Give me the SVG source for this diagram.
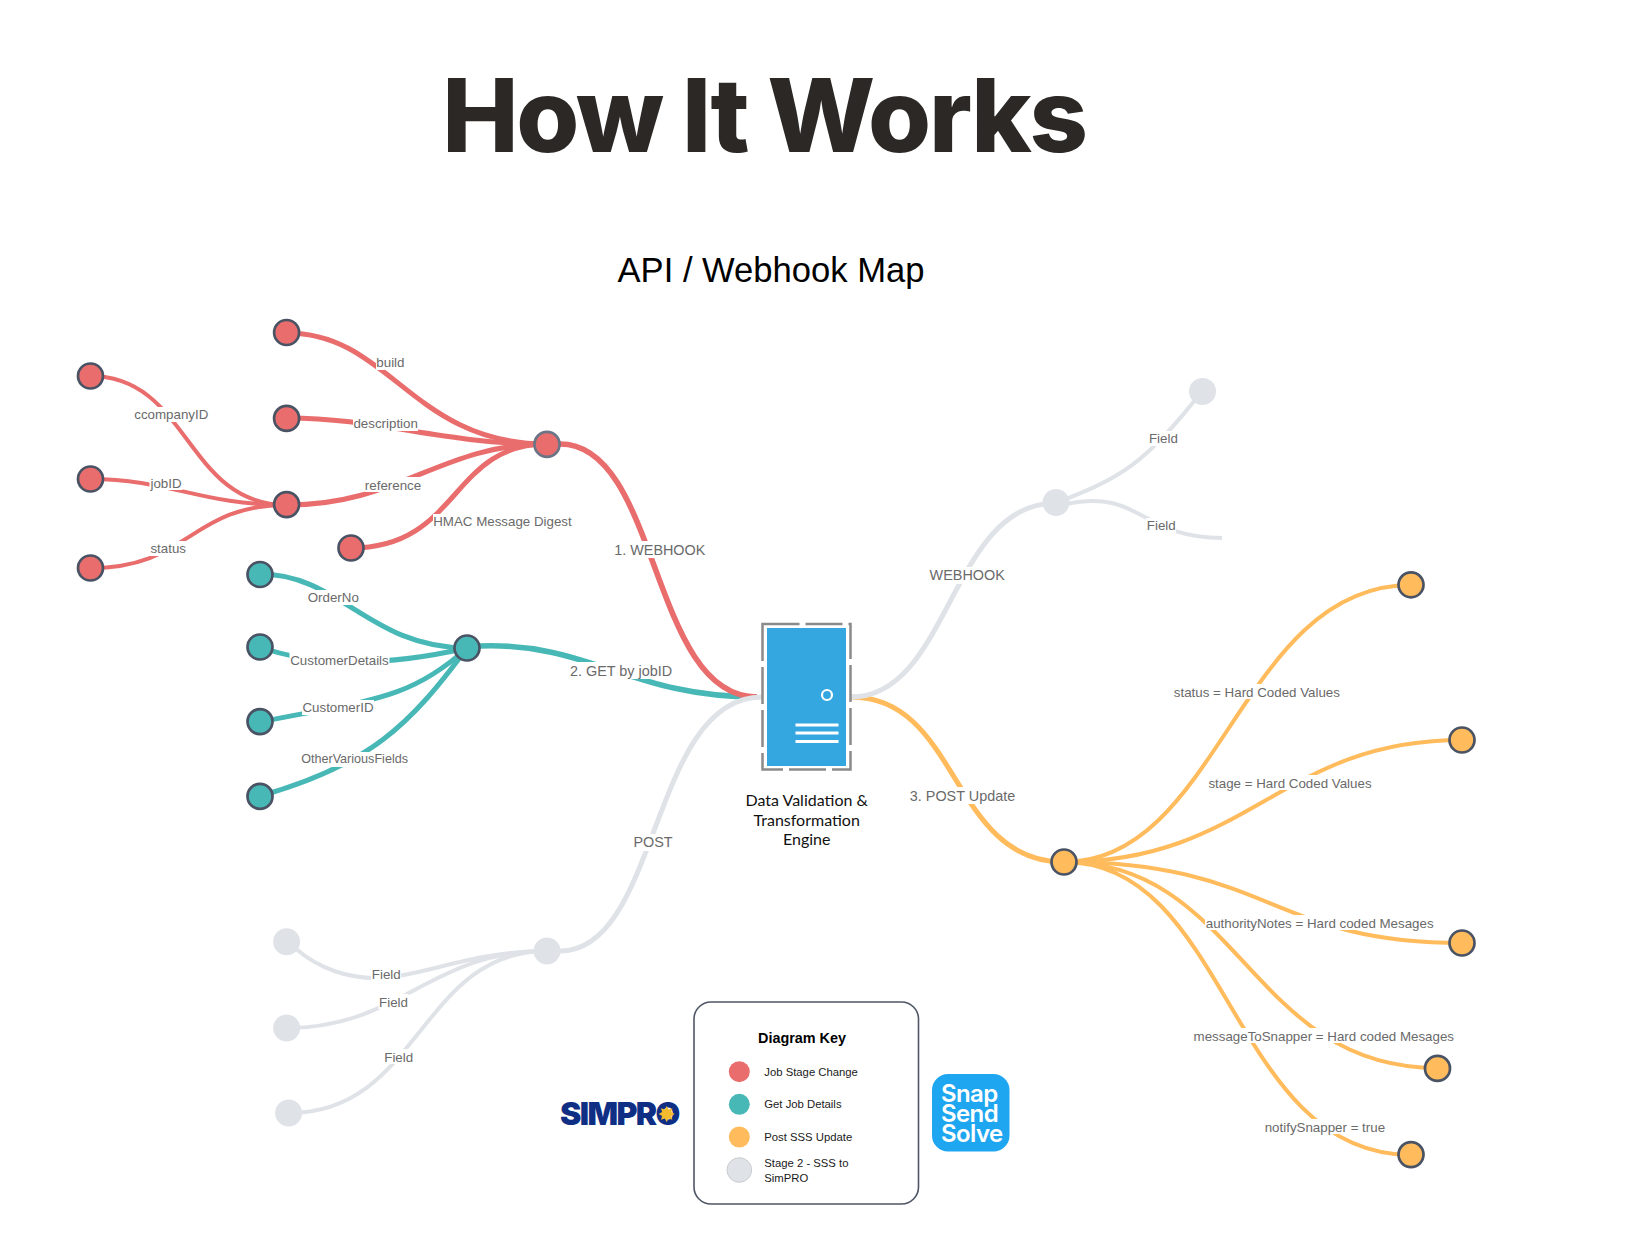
<svg xmlns="http://www.w3.org/2000/svg" width="1628" height="1260" viewBox="0 0 1628 1260">
<style>
text{font-family:"Liberation Sans",Arial,sans-serif}
.c{fill:none;stroke-linecap:butt}
.r{stroke:#e96d6d}.t{stroke:#48b8b7}.o{stroke:#ffbb5c}.g{stroke:#dfe3e8}
.w6{stroke-width:5.6}.w5{stroke-width:5}.w4{stroke-width:4}
.nr,.nt,.no{stroke:#4a5364;stroke-width:2.7}
.nr{fill:#e96d6d}.nt{fill:#48b8b7}.no{fill:#ffbb5c}.ng{fill:#dfe3e8}
.lb{fill:#fff}
.s{font-size:13.33px;fill:#6a6a6a;text-anchor:middle}
.m{font-size:14.4px;fill:#6a6a6a;text-anchor:middle}
.k{font-size:11.3px;fill:#1a1a1a}
.e{font-family:Lato,"Open Sans",sans-serif;font-size:16px;fill:#111;text-anchor:middle}
.sn{font-family:Inter,sans-serif;font-weight:600;font-size:24px;fill:#fff;letter-spacing:-.6px}
</style>
<rect width="1628" height="1260" fill="#fff"/>
<text x="764" y="152" text-anchor="middle" style="font-family:Inter,sans-serif;font-weight:800;font-size:102px;letter-spacing:-2.2px" fill="#2b2826">How It Works</text>
<text x="771" y="282" text-anchor="middle" font-size="34.6" fill="#000">API / Webhook Map</text>
<g id="connectors">
<path class="c o w5" d="M851,697C960,697 950,862 1064,862"/>
<path class="c t w6" d="M480,646C590,642 630,697 757,697"/>
<path class="c r w6" d="M560,444C660,444 650,697 757,697"/>
<path class="c g w5" d="M560,951C660,951 650,697 762,697"/>
<path class="c g w5" d="M851,697C950,697 950,503 1056,503"/>
<path class="c g w4" d="M1056,503C1120,478 1145,465 1202,391"/>
<path class="c g w4" d="M1066,504C1140,488 1140,538 1222,538"/>
<path class="c r w5" d="M287,333C390,333 412,444 547,444"/>
<path class="c r w5" d="M287,418C380,418 440,444 547,444"/>
<path class="c r w5" d="M287,505C400,505 440,444 547,444"/>
<path class="c r w5" d="M351,548C460,548 450,444 547,444"/>
<path class="c r w4" d="M90,376C190,376 185,505 287,505"/>
<path class="c r w4" d="M90,479C170,479 200,505 287,505"/>
<path class="c r w4" d="M90,568C190,568 190,505 287,505"/>
<path class="c t w5" d="M260,574C340,574 370,648 467,648"/>
<path class="c t w5" d="M260,647C310,665 380,668 467,648"/>
<path class="c t w5" d="M260,722C370,700 410,700 467,648"/>
<path class="c t w5" d="M260,796C370,765 410,725 467,648"/>
<path class="c o w4" d="M1064,862C1220,862 1240,585 1411,585"/>
<path class="c o w4" d="M1064,862C1250,862 1280,740 1462,740"/>
<path class="c o w4" d="M1064,862C1270,862 1270,943 1462,943"/>
<path class="c o w4" d="M1064,862C1240,862 1250,1068 1437,1068"/>
<path class="c o w4" d="M1064,862C1230,862 1230,1155 1411,1155"/>
<path class="c g w4" d="M295,948C320,970 350,978 375,978C420,978 470,951 547,951"/>
<path class="c g w4" d="M287,1028C400,1028 430,951 547,951"/>
<path class="c g w4" d="M289,1113C420,1113 420,951 547,951"/>
<g id="labels">
<rect class="lb" x="376" y="355" width="29" height="15"/><text class="s" x="390.4" y="367">build</text>
<rect class="lb" x="353" y="416" width="65" height="15"/><text class="s" x="385.7" y="428">description</text>
<rect class="lb" x="364.5" y="477" width="57" height="15"/><text class="s" x="393" y="489.5">reference</text>
<rect class="lb" x="433" y="514" width="139" height="15"/><text class="s" x="502.5" y="526">HMAC Message Digest</text>
<rect class="lb" x="134" y="407" width="75" height="15"/><text class="s" x="171.3" y="419">ccompanyID</text>
<rect class="lb" x="149.5" y="475" width="33" height="15"/><text class="s" x="166" y="487.5">jobID</text>
<rect class="lb" x="149.5" y="541" width="37" height="15"/><text class="s" x="168.2" y="553">status</text>
<rect class="lb" x="307" y="590" width="52" height="15"/><text class="s" x="333.3" y="602">OrderNo</text>
<rect class="lb" x="289.5" y="653" width="100" height="15"/><text class="s" x="339.5" y="665">CustomerDetails</text>
<rect class="lb" x="302" y="700" width="72" height="15"/><text class="s" x="338" y="712">CustomerID</text>
<rect class="lb" x="301" y="752" width="107" height="15"/><text class="s" x="354.6" y="763" style="font-size:12.6px">OtherVariousFields</text>
<rect class="lb" x="615" y="541" width="90" height="17"/><text class="m" x="659.8" y="554.5">1. WEBHOOK</text>
<rect class="lb" x="569" y="662" width="104" height="17"/><text class="m" x="621" y="676">2. GET by jobID</text>
<rect class="lb" x="633" y="834" width="40" height="17"/><text class="m" x="653" y="847">POST</text>
<rect class="lb" x="929" y="567" width="76" height="17"/><text class="m" x="967.2" y="580">WEBHOOK</text>
<rect class="lb" x="909" y="787" width="106" height="17"/><text class="m" x="962.5" y="800.5">3. POST Update</text>
<rect class="lb" x="1148" y="431" width="30" height="15"/><text class="s" x="1163.4" y="443">Field</text>
<rect class="lb" x="1146" y="518" width="30" height="15"/><text class="s" x="1161.3" y="530">Field</text>
<rect class="lb" x="371" y="967" width="30" height="15"/><text class="s" x="386.3" y="979">Field</text>
<rect class="lb" x="378.5" y="994" width="30" height="15"/><text class="s" x="393.5" y="1006.5">Field</text>
<rect class="lb" x="383.5" y="1049" width="30" height="15"/><text class="s" x="398.7" y="1061.5">Field</text>
<rect class="lb" x="1173" y="684" width="167" height="15"/><text class="s" x="1256.9" y="696.5">status = Hard Coded Values</text>
<rect class="lb" x="1207" y="775" width="165" height="15"/><text class="s" x="1290" y="787.5">stage = Hard Coded Values</text>
<rect class="lb" x="1205" y="915" width="229" height="15"/><text class="s" x="1319.7" y="927.5">authorityNotes = Hard coded Mesages</text>
<rect class="lb" x="1193" y="1028" width="262" height="15"/><text class="s" x="1323.8" y="1041">messageToSnapper = Hard coded Mesages</text>
<rect class="lb" x="1265" y="1119" width="120" height="15"/><text class="s" x="1324.9" y="1131.5">notifySnapper = true</text>
</g>
</g>
<g id="n-companyid"><circle class="nr" cx="90.5" cy="376" r="12.5"/></g>
<g id="n-jobid"><circle class="nr" cx="90.5" cy="479" r="12.5"/></g>
<g id="n-status"><circle class="nr" cx="90.5" cy="568" r="12.5"/></g>
<g id="n-red-hub2"><circle class="nr" cx="286.6" cy="504.6" r="12.5"/></g>
<g id="n-build"><circle class="nr" cx="286.6" cy="332.5" r="12.5"/></g>
<g id="n-description"><circle class="nr" cx="286.6" cy="418.4" r="12.5"/></g>
<g id="n-hmac"><circle class="nr" cx="351" cy="548" r="12.5"/></g>
<g id="n-red-hub"><circle class="nr" style="stroke:#6b7585" cx="547" cy="444.4" r="12.5"/></g>
<g id="n-orderno"><circle class="nt" cx="260" cy="574.5" r="12.5"/></g>
<g id="n-customerdetails"><circle class="nt" cx="260" cy="647" r="12.5"/></g>
<g id="n-customerid"><circle class="nt" cx="260" cy="721.6" r="12.5"/></g>
<g id="n-other"><circle class="nt" cx="260" cy="796.4" r="12.5"/></g>
<g id="n-teal-hub"><circle class="nt" cx="467" cy="648" r="12.5"/></g>
<g id="n-gray-top"><circle class="ng" cx="1202.5" cy="391.4" r="13.5"/></g>
<g id="n-gray-hub"><circle class="ng" cx="1056" cy="502.5" r="13.5"/></g>
<g id="n-gray-hub2"><circle class="ng" cx="547" cy="951" r="13.5"/></g>
<g id="n-gray-1"><circle class="ng" cx="286.6" cy="941.7" r="13.5"/></g>
<g id="n-gray-2"><circle class="ng" cx="286.6" cy="1028" r="13.5"/></g>
<g id="n-gray-3"><circle class="ng" cx="288.6" cy="1113" r="13.5"/></g>
<g id="n-orange-hub"><circle class="no" cx="1064" cy="862" r="12.5"/></g>
<g id="n-orange-1"><circle class="no" cx="1411" cy="584.8" r="12.5"/></g>
<g id="n-orange-2"><circle class="no" cx="1462" cy="740" r="12.5"/></g>
<g id="n-orange-3"><circle class="no" cx="1462" cy="943" r="12.5"/></g>
<g id="n-orange-4"><circle class="no" cx="1437.5" cy="1068.4" r="12.5"/></g>
<g id="n-orange-5"><circle class="no" cx="1411" cy="1154.6" r="12.5"/></g>
<g id="server">
<rect x="762.5" y="624" width="88" height="145.5" fill="none" stroke="#8a8a8a" stroke-width="2.5" stroke-dasharray="37 6"/>
<rect x="767" y="628" width="79" height="138" fill="#35a7e0"/>
<circle cx="827" cy="695" r="5" fill="none" stroke="#fff" stroke-width="2.2"/>
<path d="M795.5,725H838.5M795.5,733H838.5M795.5,741.5H838.5" stroke="#fff" stroke-width="3" fill="none"/>
<text class="e" x="806.7" y="806">Data Validation &amp;</text>
<text class="e" x="806.7" y="825.5">Transformation</text>
<text class="e" x="806.7" y="845">Engine</text>
</g>
<g id="key">
<rect x="694" y="1002" width="224.5" height="202" rx="17" fill="#fff" stroke="#4f5666" stroke-width="1.6"/>
<text x="802" y="1042.5" text-anchor="middle" font-size="14.4" font-weight="700" fill="#000">Diagram Key</text>
<circle class="ng" style="fill:#e96d6d" cx="739.3" cy="1071.7" r="10.5"/><text class="k" x="764.3" y="1075.5">Job Stage Change</text>
<circle class="ng" style="fill:#48b8b7" cx="739.3" cy="1104.3" r="10.5"/><text class="k" x="764.3" y="1107.5">Get Job Details</text>
<circle class="ng" style="fill:#ffbb5c" cx="739.3" cy="1137" r="10.5"/><text class="k" x="764.3" y="1140.5">Post SSS Update</text>
<circle cx="739.3" cy="1170" r="12.3" fill="#dfe3e8" stroke="#c9ccd0"/><text class="k" x="764.3" y="1167">Stage 2 - SSS to</text><text class="k" x="764.3" y="1182">SimPRO</text>
</g>
<g id="simpro-logo">
<text x="560" y="1125" style="font-family:Inter,sans-serif;font-weight:900;font-size:32px;letter-spacing:-1.6px" fill="#0f2f85">SIMPRO</text>
<polygon fill="#f4bb2f" points="666.7,1106 668.6,1109.4 672.4,1108.3 671.3,1112.1 674.7,1114 671.3,1115.9 672.4,1119.7 668.6,1118.6 666.7,1122 664.8,1118.6 661,1119.7 662.1,1115.9 658.7,1114 662.1,1112.1 661,1108.3 664.8,1109.4"/>
</g>
<g id="sss-logo">
<rect x="932" y="1074" width="77.5" height="77.5" rx="16" fill="#1fa6f0"/>
<text class="sn" x="941" y="1102">Snap</text>
<text class="sn" x="941" y="1122">Send</text>
<text class="sn" x="941" y="1142">Solve</text>
</g>
</svg>
